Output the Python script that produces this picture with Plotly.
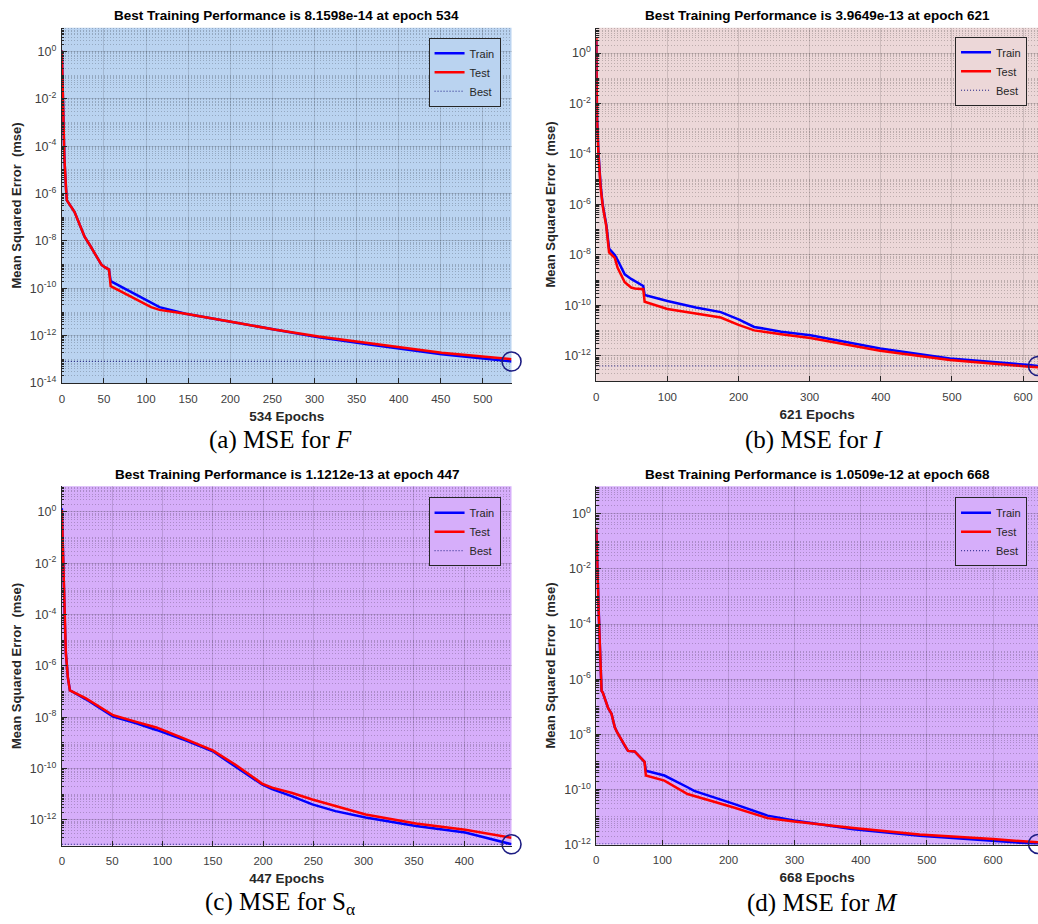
import plotly.graph_objects as go

W, H = 1038, 924
SANS = "Liberation Sans, Arial, Helvetica, sans-serif"
SERIF = "Liberation Serif, Times New Roman, serif"
INK = "#262626"

# ---------------- data ----------------
# (a) MSE for F
epochs_a = [0, 1, 3, 5, 6, 15, 27, 33, 47, 51, 56, 58, 80, 106, 116, 147, 206, 254, 305, 365, 404, 451, 534]
train_a = [1.1, 1e-2, 3.2e-5, 1.6e-6, 5.2e-7, 1.7e-7, 1.5e-8, 6.9e-9, 1.0e-9, 7.8e-10, 6.2e-10, 2.0e-10,
           7.6e-11, 2.6e-11, 1.6e-11, 8.5e-12, 3.5e-12, 1.7e-12, 8.5e-13, 4.2e-13, 2.8e-13,
           1.66e-13, 8.1598e-14]
test_a = [1.1, 1e-2, 3.2e-5, 1.6e-6, 5.2e-7, 1.7e-7, 1.5e-8, 6.9e-9, 1.0e-9, 7.8e-10, 6.2e-10, 1.23e-10,
          4.7e-11, 1.6e-11, 1.23e-11, 8.5e-12, 3.6e-12, 1.78e-12, 9.3e-13, 4.7e-13, 3.2e-13,
          1.9e-13, 1.02e-13]
best_a, best_epoch_a = 8.1598e-14, 534

# (b) MSE for I
epochs_b = [0, 1, 3, 6, 9, 14, 18, 26, 30, 40, 49, 54, 66, 68, 100, 140, 175, 200, 222, 260, 301, 399, 497, 605, 621]
train_b = [3.2, 3.2e-3, 1.26e-4, 6.3e-6, 1.0e-6, 1.6e-7, 1.8e-8, 1.0e-8, 6.3e-9, 1.7e-9, 1.12e-9, 9.3e-10,
           5.9e-10, 2.6e-10, 1.5e-10, 8.3e-11, 5.4e-11, 2.8e-11, 1.4e-11, 9.1e-12, 6.5e-12, 1.95e-12,
           7.9e-13, 4.4e-13, 3.9649e-13]
test_b = [4.3, 2.5e-3, 1.0e-4, 5.0e-6, 8.9e-7, 1.4e-7, 1.26e-8, 7.6e-9, 3.1e-9, 8.3e-10, 5.1e-10, 4.7e-10,
          4.4e-10, 1.4e-10, 7.2e-11, 4.8e-11, 3.3e-11, 1.7e-11, 1.02e-11, 7.2e-12, 5.1e-12, 1.58e-12,
          6.8e-13, 3.8e-13, 3.55e-13]
best_b, best_epoch_b = 3.9649e-13, 621

# (c) MSE for S_alpha
epochs_c = [0, 1, 3, 4, 6, 8, 24, 51, 74, 94, 123, 150, 173, 199, 209, 229, 249, 272, 302, 352, 401, 447]
train_c = [1.4, 2.5e-2, 5.0e-5, 3.2e-6, 3.5e-7, 1.12e-7, 5.0e-8, 1.05e-8, 5.8e-9, 3.2e-9, 1.26e-9, 4.7e-10,
           1.2e-10, 2.4e-11, 1.58e-11, 8.3e-12, 4.0e-12, 2.2e-12, 1.23e-12, 5.8e-13, 3.2e-13, 1.1212e-13]
test_c = [1.2, 2.5e-2, 5.0e-5, 3.2e-6, 3.5e-7, 1.12e-7, 5.4e-8, 1.2e-8, 6.6e-9, 4.0e-9, 1.4e-9, 5.1e-10,
          1.38e-10, 2.6e-11, 1.8e-11, 1.12e-11, 6.2e-12, 3.5e-12, 1.62e-12, 7.2e-13, 4.1e-13, 2.0e-13]
best_c, best_epoch_c = 1.1212e-13, 447

# (d) MSE for M
epochs_d = [0, 1, 3, 5, 8, 10, 18, 23, 28, 31, 43, 48, 58, 70, 73, 75, 103, 138, 148, 208, 259, 299, 389, 489, 600, 668]
train_d = [0.25, 2.5e-2, 7.9e-4, 3.2e-5, 3.8e-7, 3.2e-7, 8.9e-8, 5.6e-8, 1.8e-8, 1.26e-8, 3.8e-9, 2.5e-9,
           2.4e-9, 1.26e-9, 1.0e-9, 4.8e-10, 3.2e-10, 1.2e-10, 8.9e-11, 3.0e-11, 1.12e-11, 7.4e-12, 3.6e-12,
           2.1e-12, 1.38e-12, 1.0509e-12]
test_d = [0.32, 2.5e-2, 7.9e-4, 3.2e-5, 3.8e-7, 3.2e-7, 8.9e-8, 5.6e-8, 1.8e-8, 1.26e-8, 3.8e-9, 2.5e-9,
          2.4e-9, 1.26e-9, 1.0e-9, 3.2e-10, 2.1e-10, 6.8e-11, 5.8e-11, 2.2e-11, 9.1e-12, 6.9e-12, 4.0e-12,
          2.3e-12, 1.58e-12, 1.2e-12]
best_d, best_epoch_d = 1.0509e-12, 668

titles = ["Best Training Performance is 8.1598e-14 at epoch 534",
          "Best Training Performance is 3.9649e-13 at epoch 621",
          "Best Training Performance is 1.1212e-13 at epoch 447",
          "Best Training Performance is 1.0509e-12 at epoch 668"]
xlabels = ["534 Epochs", "621 Epochs", "447 Epochs", "668 Epochs"]
captions = ["(a) MSE for <i>F</i>", "(b) MSE for <i>I</i>",
            "(c) MSE for S<sub>α</sub>", "(d) MSE for <i>M</i>"]
legend_names = ["Train", "Test", "Best"]
ylabel = "Mean Squared Error  (mse)"

# ---------------- layout geometry (pixels) ----------------
panels = [
    dict(ep=epochs_a, tr=train_a, te=test_a, best=best_a, bep=best_epoch_a, ymin=-14, dx=50,
         bg="rgb(186,211,240)", px=(59, 510), py=(28, 386), leg=(499, 38), title_y=16, cap=(278, 443)),
    dict(ep=epochs_b, tr=train_b, te=test_b, best=best_b, bep=best_epoch_b, ymin=-13, dx=100,
         bg="rgb(236,215,216)", px=(595, 1038), py=(28, 384), leg=(1027, 37), title_y=16, cap=(813, 443)),
    dict(ep=epochs_c, tr=train_c, te=test_c, best=best_c, bep=best_epoch_c, ymin=-13, dx=50,
         bg="rgb(214,174,250)", px=(59, 510), py=(490, 852), leg=(499, 501), title_y=478, cap=(278, 910)),
    dict(ep=epochs_d, tr=train_d, te=test_d, best=best_d, bep=best_epoch_d, ymin=-12, dx=100,
         bg="rgb(214,174,250)", px=(595, 1038), py=(490, 851), leg=(1027, 501), title_y=478, cap=(821, 910)),
]

fig = go.Figure()
layout = dict(width=W, height=H, margin=dict(l=0, r=0, t=0, b=0),
              paper_bgcolor="white", plot_bgcolor="rgba(0,0,0,0)",
              font=dict(family=SANS, color=INK, size=11), shapes=[], annotations=[])

BEST_COL = "rgb(28,28,130)"

for i, p in enumerate(panels, start=1):
    xa = "x" if i == 1 else f"x{i}"
    ya = "y" if i == 1 else f"y{i}"
    lg = "legend" if i == 1 else f"legend{i}"
    n = p["ep"][-1]
    fig.add_trace(go.Scatter(x=p["ep"], y=p["tr"], mode="lines", name=legend_names[0],
                             line=dict(color="rgb(0,0,255)", width=2.5), xaxis=xa, yaxis=ya, legend=lg))
    fig.add_trace(go.Scatter(x=p["ep"], y=p["te"], mode="lines", name=legend_names[1],
                             line=dict(color="rgb(255,0,0)", width=2.5), xaxis=xa, yaxis=ya, legend=lg))
    fig.add_trace(go.Scatter(x=[0, n], y=[p["best"], p["best"]], mode="lines", name=legend_names[2],
                             line=dict(color=BEST_COL, width=1, dash="1px,2px"), xaxis=xa, yaxis=ya, legend=lg))
    fig.add_trace(go.Scatter(x=[p["bep"]], y=[p["best"]], mode="markers", showlegend=False,
                             marker=dict(symbol="circle-open", size=19, color=BEST_COL,
                                         line=dict(width=1.6, color=BEST_COL)),
                             cliponaxis=False, xaxis=xa, yaxis=ya))

    x0, x1 = p["px"]
    y0, y1 = p["py"]
    xdom = [x0 / W, min(1.0, x1 / W)]
    ydom = [1 - y1 / H, 1 - y0 / H]
    ticks_exp = list(range(0, p["ymin"] - 1, -2))
    layout["xaxis" if i == 1 else f"xaxis{i}"] = dict(
        domain=xdom, anchor=ya, range=[0, n], dtick=p["dx"], tick0=0,
        showgrid=True, gridcolor="rgba(0,0,0,0.13)", gridwidth=1, zeroline=False,
        showline=True, linecolor=INK, linewidth=1, ticks="inside", ticklen=5, tickcolor=INK,
        tickfont=dict(size=11.5, color="#404040"), ticklabelstandoff=5,
        title=dict(text=f"<b>{xlabels[i-1]}</b>", font=dict(size=13.5, color=INK), standoff=7))
    layout["yaxis" if i == 1 else f"yaxis{i}"] = dict(
        domain=ydom, anchor=xa, type="log", range=[p["ymin"], 1],
        tickmode="array", tickvals=[10.0 ** k for k in ticks_exp],
        ticktext=[f"10<sup>{k}</sup>" for k in ticks_exp],
        showgrid=True, gridcolor="rgba(0,0,0,0.13)", gridwidth=1, zeroline=False,
        showline=True, linecolor=INK, linewidth=1, ticks="inside", ticklen=5, tickcolor=INK,
        tickfont=dict(size=12.5, color="#404040"), ticklabelstandoff=2,
        minor=dict(dtick="D1", showgrid=True, gridcolor="rgba(0,0,0,0.2)", griddash="1px,2px",
                   gridwidth=1, ticks="inside", ticklen=2.5, tickcolor=INK),
        title=dict(text=f"<b>{ylabel}</b>", font=dict(size=13, color=INK), standoff=5))
    layout[lg] = dict(x=p["leg"][0] / W, xanchor="right", y=1 - p["leg"][1] / H, yanchor="top",
                      bgcolor=p["bg"], bordercolor=INK, borderwidth=1,
                      font=dict(size=11, color=INK), itemwidth=30, tracegroupgap=0)
    layout["shapes"].append(dict(type="rect", xref=f"{xa} domain", yref=f"{ya} domain",
                                 x0=0, x1=1, y0=0, y1=1, fillcolor=p["bg"], line=dict(width=0),
                                 layer="below"))
    layout["annotations"].append(dict(text=f"<b>{titles[i-1]}</b>", xref="paper", yref="paper",
                                      x=(x0 + x1) / 2 / W, y=1 - p["title_y"] / H, showarrow=False,
                                      xanchor="center", yanchor="middle",
                                      font=dict(size=13.5, color="black", family=SANS)))
    layout["annotations"].append(dict(text=captions[i-1], xref="paper", yref="paper",
                                      x=p["cap"][0] / W, y=1 - p["cap"][1] / H, showarrow=False,
                                      xanchor="center", yanchor="middle",
                                      font=dict(size=25, color="black", family=SERIF)))

fig.update_layout(**layout)
fig.write_html("out.html")
